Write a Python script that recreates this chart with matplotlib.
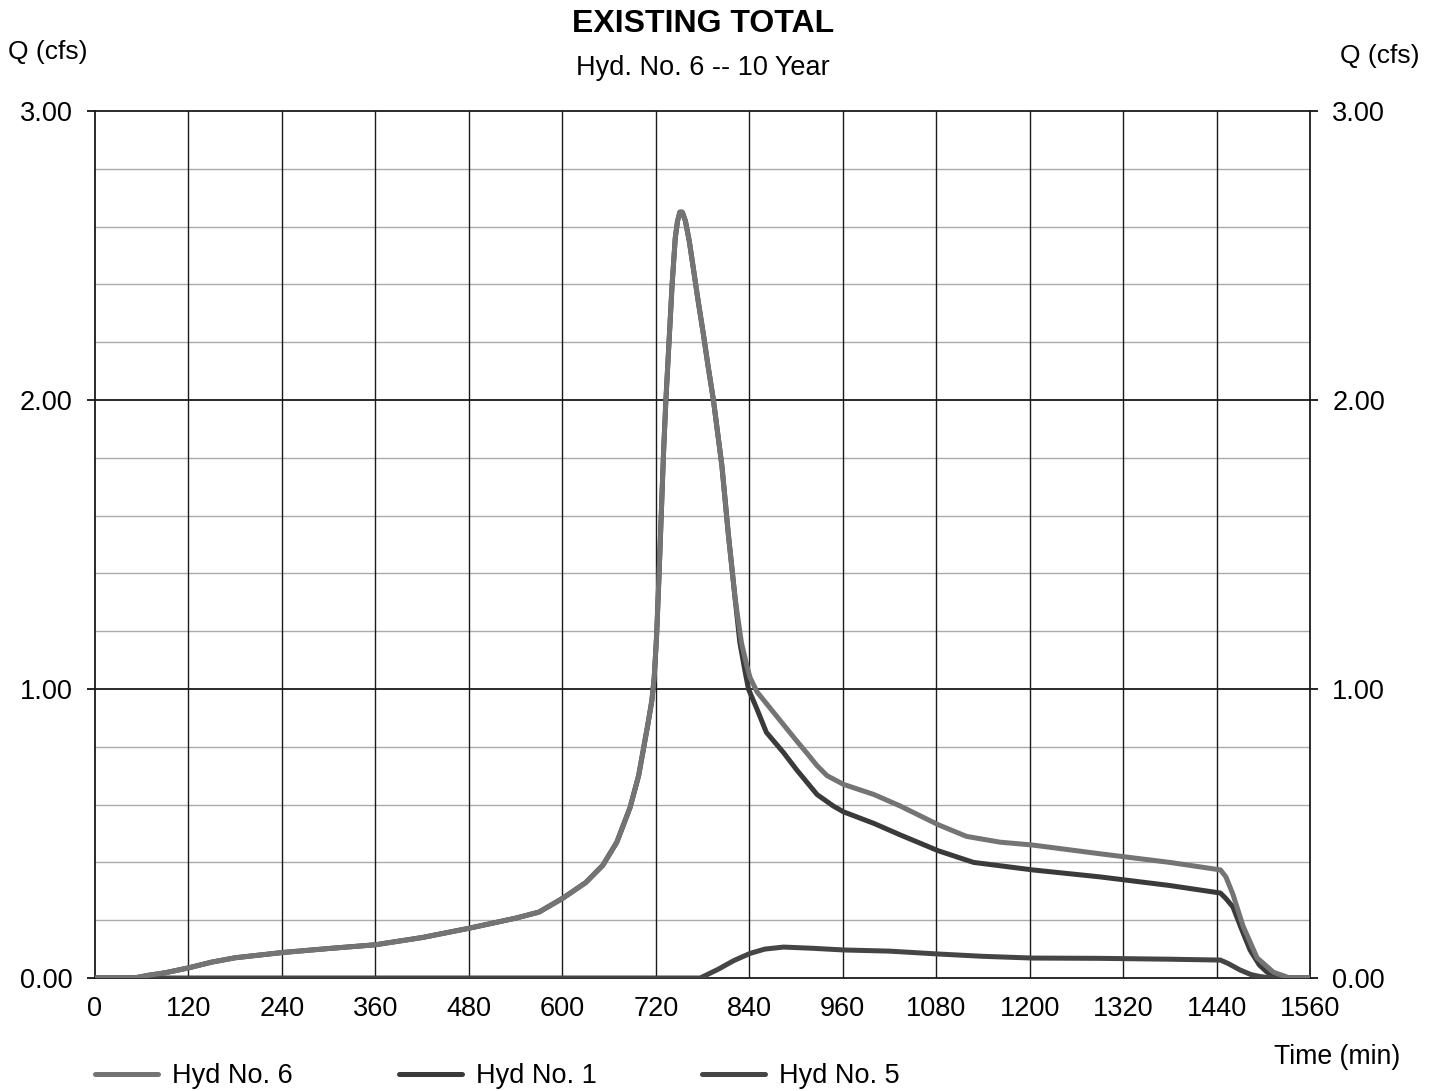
import matplotlib
matplotlib.use("Agg")
import matplotlib.pyplot as plt

plt.rcParams['font.family'] = ['Liberation Sans', 'DejaVu Sans']

# Hyd No. 6 (total)
t6 = [0, 50, 70, 90, 120, 150, 180, 240, 300, 360, 420, 480, 540, 570, 600, 630, 652, 670,
      687, 698, 704, 710, 715, 718, 721, 724, 727, 730, 733, 737, 741, 745, 748, 751, 754,
      758, 763, 768, 774, 781, 787, 794, 805, 813, 822, 830, 837, 841, 850, 862, 880, 901,
      915, 927, 940, 961, 1000, 1034, 1083, 1119, 1162, 1204, 1290, 1380, 1445, 1452, 1461,
      1474, 1492, 1513, 1534, 1560]
q6 = [0, 0, 0.01, 0.018, 0.035, 0.055, 0.07, 0.088, 0.102, 0.115, 0.14, 0.172, 0.207, 0.228,
      0.275, 0.33, 0.39, 0.47, 0.59, 0.70, 0.79, 0.88, 0.96, 1.04, 1.18, 1.38, 1.60, 1.82,
      2.00, 2.20, 2.40, 2.56, 2.62, 2.65, 2.65, 2.62, 2.55, 2.46, 2.35, 2.23, 2.12, 2.00,
      1.77, 1.54, 1.31, 1.16, 1.08, 1.04, 0.99, 0.95, 0.89, 0.82, 0.775, 0.735, 0.70, 0.67,
      0.635, 0.595, 0.53, 0.49, 0.47, 0.46, 0.43, 0.40, 0.374, 0.35, 0.29, 0.18, 0.07, 0.02,
      0.0, 0.0]

# Hyd No. 1
t1 = [0, 50, 70, 90, 120, 150, 180, 240, 300, 360, 420, 480, 540, 570, 600, 630, 652, 670,
      687, 698, 704, 710, 715, 718, 721, 724, 727, 730, 733, 737, 741, 745, 748, 751, 754,
      758, 763, 768, 774, 781, 787, 794, 805, 813, 822, 828, 834, 839, 850, 862, 884, 901,
      927, 948, 961, 1000, 1034, 1083, 1128, 1204, 1290, 1380, 1445, 1452, 1461, 1472,
      1483, 1495, 1505, 1520, 1535, 1560]
q1 = [0, 0, 0.01, 0.018, 0.035, 0.055, 0.07, 0.088, 0.102, 0.115, 0.14, 0.172, 0.207, 0.228,
      0.275, 0.33, 0.39, 0.47, 0.59, 0.70, 0.79, 0.88, 0.96, 1.04, 1.18, 1.38, 1.60, 1.82,
      2.00, 2.20, 2.40, 2.56, 2.62, 2.65, 2.65, 2.62, 2.55, 2.46, 2.35, 2.23, 2.12, 2.00,
      1.77, 1.54, 1.31, 1.16, 1.07, 1.00, 0.93, 0.85, 0.78, 0.72, 0.635, 0.595, 0.575, 0.535,
      0.495, 0.44, 0.40, 0.374, 0.35, 0.32, 0.294, 0.275, 0.246, 0.17, 0.097, 0.045, 0.02,
      0.005, 0.0, 0.0]

# Hyd No. 5
t5 = [0, 777, 800, 820, 841, 860, 884, 920, 961, 1020, 1083, 1140, 1204, 1290, 1380, 1445,
      1455, 1470, 1484, 1496, 1510, 1560]
q5 = [0, 0, 0.03, 0.06, 0.085, 0.1, 0.107, 0.103, 0.097, 0.093, 0.083, 0.075, 0.069, 0.068,
      0.065, 0.062, 0.05, 0.028, 0.012, 0.005, 0.0, 0.0]

x_ticks = list(range(0, 1561, 120))
y_ticks = [0, 1, 2, 3]

fig = plt.figure(figsize=(14.38, 10.91), dpi=100)
ax = fig.add_axes([95 / 1438, 1 - 978 / 1091, 1215 / 1438, 867 / 1091])

# grid
for y in [0.2 * i for i in range(1, 15)]:
    if abs(y - round(y)) > 1e-6:
        ax.axhline(y, color='#ababab', lw=1.0, zorder=1)
for y in [1, 2]:
    ax.axhline(y, color='#1a1a1a', lw=1.3, zorder=1)
for x in x_ticks[1:-1]:
    ax.axvline(x, color='#1a1a1a', lw=1.0, zorder=1)

l1, = ax.plot(t1, q1, color='#3a3a3a', lw=3.6, solid_capstyle='round', zorder=3, label='Hyd No. 1')
l5, = ax.plot(t5, q5, color='#454545', lw=3.6, solid_capstyle='round', zorder=4, label='Hyd No. 5')
l6, = ax.plot(t6, q6, color='#747474', lw=3.6, solid_capstyle='round', zorder=5, label='Hyd No. 6')

ax.set_xlim(0, 1560)
ax.set_ylim(0, 3)
ax.set_xticks(x_ticks)
ax.set_yticks(y_ticks)
ax.set_yticklabels(['%.2f' % v for v in y_ticks])
ax.tick_params(axis='x', length=0, pad=13, labelsize=19.5)
ax.tick_params(axis='y', length=6, width=1.2, pad=10, labelsize=19.5, right=True,
               labelright=True, direction='out')
for s in ax.spines.values():
    s.set_linewidth(1.3)
    s.set_color('#1a1a1a')

fig.text(703 / 1438, 1 - 24 / 1091, 'EXISTING TOTAL', ha='center', va='center',
         fontsize=23, fontweight='bold')
fig.text(703 / 1438, 1 - 68 / 1091, 'Hyd. No. 6 -- 10 Year', ha='center', va='center', fontsize=19.5)
fig.text(8 / 1438, 1 - 52 / 1091, 'Q (cfs)', ha='left', va='center', fontsize=19)
fig.text(1420 / 1438, 1 - 56 / 1091, 'Q (cfs)', ha='right', va='center', fontsize=19)
fig.text(1400 / 1438, 1 - 1057 / 1091, 'Time (min)', ha='right', va='center', fontsize=19.2)

fig.legend(handles=[l6, l1, l5], loc='center left', bbox_to_anchor=(95 / 1438, 1 - 1076 / 1091),
           ncol=3, frameon=False, fontsize=19.5, handlelength=2.33, handletextpad=0.52,
           columnspacing=3.9, borderpad=0, borderaxespad=0)

fig.savefig('out.png', dpi=100)
